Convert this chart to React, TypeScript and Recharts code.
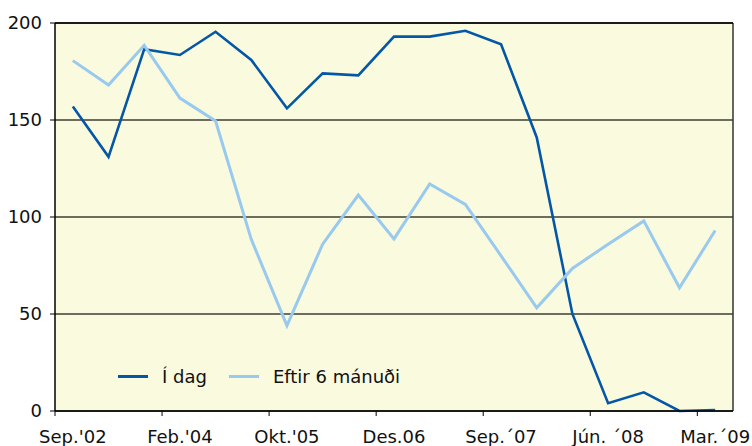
import React from 'react';
import { LineChart, Line, XAxis, YAxis, CartesianGrid, ReferenceLine, Legend } from 'recharts';

const tickLabels = ["Sep.'02", "Feb.'04", "Okt.'05", 'Des.06', 'Sep.´07', 'Jún. ´08', 'Mar.´09'];
const tickPositions = [0, 3, 6, 9, 12, 15, 18];
const iDag = [157, 131, 186.5, 183.5, 195.5, 181, 156, 174, 173, 193, 193, 196, 189, 141, 50, 4, 9.6, 0, 0.5];
const eftir6 = [180.6, 168, 188.5, 161.3, 149.5, 88.5, 44, 86, 111.3, 88.7, 117, 106.5, 80, 53.2, 73.5, 86, 98, 63.5, 93];
const seriesNames = ['Í dag', 'Eftir 6 mánuði'];
const colors = ['#0457A7', '#98C9EE'];

const data = iDag.map((v, i) => ({ x: i + 0.5, idag: v, eftir: eftir6[i] }));

const W = 752;
const H = 446;
const PLOT_W = 678;
const HALF_BAND = PLOT_W / iDag.length / 2;
const FONT = '"DejaVu Sans", Verdana, sans-serif';

const XTick = (props: any) => {
  const { x, y, payload } = props;
  const idx = tickPositions.indexOf(payload.value);
  return (
    <text x={x + HALF_BAND} y={y} dy="0.71em" textAnchor="middle" fill="#111" fontSize={18} fontFamily={FONT}>
      {idx >= 0 ? tickLabels[idx] : ''}
    </text>
  );
};

const LegendContent = () => (
  <div style={{ display: 'flex', alignItems: 'center', fontFamily: FONT, fontSize: 18, color: '#111', whiteSpace: 'nowrap' }}>
    {seriesNames.map((n, i) => (
      <div key={n} style={{ display: 'flex', alignItems: 'center', marginRight: 22 }}>
        <div style={{ width: 30, height: 3, background: colors[i], marginRight: 14 }} />
        <span>{n}</span>
      </div>
    ))}
  </div>
);

export default function App() {
  return (
    <div style={{ position: 'absolute', left: 0, top: 0, width: W, height: H, background: '#fff' }}>
      <LineChart width={W} height={H} data={data} margin={{ top: 23, right: 19, bottom: 0, left: 0 }}>
        <CartesianGrid horizontal vertical={false} fill="#FAFADE" stroke="#3C3C34" strokeWidth={1.5} />
        <XAxis
          dataKey="x"
          type="number"
          domain={[0, 19]}
          ticks={tickPositions}
          height={35}
          tick={<XTick />}
          tickSize={5}
          tickMargin={14}
          axisLine={{ stroke: '#000', strokeWidth: 1.5 }}
          tickLine={{ stroke: '#000' }}
          interval={0}
        />
        <YAxis
          type="number"
          domain={[0, 200]}
          ticks={[0, 50, 100, 150, 200]}
          width={55}
          tickSize={5}
          tickMargin={8}
          axisLine={{ stroke: '#000', strokeWidth: 1.5 }}
          tickLine={{ stroke: '#000' }}
          tick={{ fill: '#111', fontSize: 18, fontFamily: FONT }}
          interval={0}
        />
        <ReferenceLine x={19} stroke="#333" strokeWidth={1.5} />
        <ReferenceLine y={200} stroke="#000" strokeWidth={1.5} />
        <Legend
          layout="horizontal"
          verticalAlign="middle"
          align="center"
          content={<LegendContent />}
          wrapperStyle={{ position: 'absolute', left: 118, top: 366, width: 'auto' }}
        />
        <Line type="linear" dataKey="idag" name={seriesNames[0]} stroke={colors[0]} strokeWidth={2.6} dot={false} isAnimationActive={false} />
        <Line type="linear" dataKey="eftir" name={seriesNames[1]} stroke={colors[1]} strokeWidth={3} dot={false} isAnimationActive={false} />
      </LineChart>
    </div>
  );
}
